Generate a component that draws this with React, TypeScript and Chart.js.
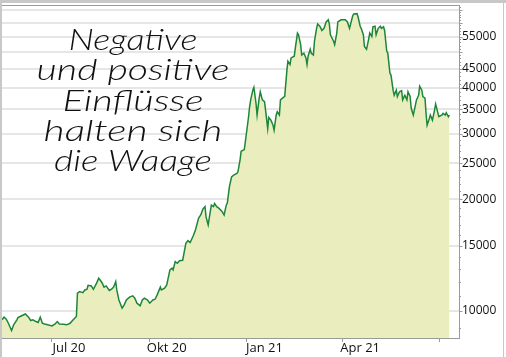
import React, { useEffect, useRef } from "react";
import { Chart, registerables } from "chart.js";

Chart.register(...registerables);

const dates = [
  "2020-05-16","2020-05-18","2020-05-20","2020-05-22","2020-05-25","2020-05-27","2020-05-30","2020-05-31",
  "2020-06-03","2020-06-05","2020-06-07","2020-06-10","2020-06-12","2020-06-14","2020-06-17","2020-06-19",
  "2020-06-21","2020-06-23","2020-06-25","2020-06-28","2020-07-02","2020-07-05","2020-07-07","2020-07-09",
  "2020-07-13","2020-07-16","2020-07-19","2020-07-22","2020-07-25","2020-07-26","2020-07-28","2020-07-31",
  "2020-08-02","2020-08-04","2020-08-05","2020-08-08","2020-08-10","2020-08-13","2020-08-15","2020-08-18",
  "2020-08-20","2020-08-22","2020-08-25","2020-08-27","2020-08-29","2020-08-31","2020-09-01","2020-09-03",
  "2020-09-06","2020-09-08","2020-09-10","2020-09-13","2020-09-16","2020-09-18","2020-09-20","2020-09-23",
  "2020-09-25","2020-09-27","2020-09-30","2020-10-02","2020-10-05","2020-10-07","2020-10-09","2020-10-12",
  "2020-10-13","2020-10-16","2020-10-18","2020-10-21","2020-10-23","2020-10-24","2020-10-26","2020-10-28",
  "2020-10-30","2020-11-02","2020-11-05","2020-11-07","2020-11-09","2020-11-12","2020-11-14","2020-11-17",
  "2020-11-19","2020-11-21","2020-11-23","2020-11-24","2020-11-26","2020-11-28","2020-11-29","2020-12-01",
  "2020-12-02","2020-12-04","2020-12-06","2020-12-09","2020-12-11","2020-12-13","2020-12-14","2020-12-16",
  "2020-12-18","2020-12-20","2020-12-23","2020-12-24","2020-12-26","2020-12-27","2020-12-30","2021-01-01",
  "2021-01-03","2021-01-04","2021-01-05","2021-01-07","2021-01-08","2021-01-10","2021-01-11","2021-01-13",
  "2021-01-14","2021-01-16","2021-01-18","2021-01-19","2021-01-21","2021-01-22","2021-01-24","2021-01-26",
  "2021-01-27","2021-01-29","2021-01-30","2021-02-01","2021-02-02","2021-02-05","2021-02-06","2021-02-08",
  "2021-02-09","2021-02-11","2021-02-12","2021-02-15","2021-02-16","2021-02-18","2021-02-19","2021-02-21",
  "2021-02-22","2021-02-24","2021-02-26","2021-02-27","2021-02-28","2021-03-02","2021-03-03","2021-03-05",
  "2021-03-06","2021-03-08","2021-03-09","2021-03-11","2021-03-13","2021-03-15","2021-03-17","2021-03-19",
  "2021-03-20","2021-03-21","2021-03-24","2021-03-25","2021-03-27","2021-03-28","2021-03-31","2021-04-04",
  "2021-04-06","2021-04-08","2021-04-09","2021-04-11","2021-04-12","2021-04-15","2021-04-16","2021-04-18",
  "2021-04-19","2021-04-21","2021-04-22","2021-04-24","2021-04-26","2021-04-27","2021-04-29","2021-04-30",
  "2021-05-02","2021-05-03","2021-05-05","2021-05-07","2021-05-08","2021-05-10","2021-05-11","2021-05-13",
  "2021-05-14","2021-05-16","2021-05-17","2021-05-19","2021-05-20","2021-05-22","2021-05-23","2021-05-25",
  "2021-05-27","2021-05-28","2021-05-30","2021-06-01","2021-06-02","2021-06-04","2021-06-05","2021-06-07",
  "2021-06-08","2021-06-10","2021-06-12","2021-06-13","2021-06-15","2021-06-16","2021-06-18","2021-06-19",
  "2021-06-20","2021-06-22","2021-06-23","2021-06-25","2021-06-27","2021-06-28","2021-06-29","2021-07-01",
  "2021-07-04","2021-07-05","2021-07-07","2021-07-08","2021-07-10","2021-07-11",
];

const prices = [
  9460, 9620, 9500, 9260, 8850, 9170, 9460, 9590,
  9690, 9750, 9810, 9620, 9420, 9460, 9360, 9300,
  9620, 9260, 9220, 9170, 9110, 9220, 9360, 9220,
  9200, 9170, 9260, 9460, 9660, 11160, 11270, 11200,
  11390, 11450, 11720, 11680, 11440, 11880, 12250, 11930,
  11590, 11680, 11350, 11440, 11590, 12000, 11390, 10700,
  10170, 10380, 10700, 10890, 10980, 10820, 10490, 10320,
  10700, 10820, 10700, 10490, 10700, 10750, 11050, 11590,
  11390, 11510, 11750, 12900, 13040, 12900, 13580, 13440,
  13660, 13700, 15220, 15470, 15290, 15950, 16540, 17800,
  18150, 18820, 19110, 17930, 17060, 18550, 19290, 19110,
  19500, 19110, 18930, 18550, 18150, 19290, 19550, 21650,
  23000, 23240, 23480, 23730, 25570, 26950, 27240, 30150,
  33410, 35600, 37100, 39420, 40110, 36340, 33770, 37500,
  39020, 37100, 36720, 34820, 31040, 33270, 32710, 31700,
  30730, 33770, 34470, 33770, 37100, 37720, 37880, 44350,
  47160, 46210, 48160, 48670, 51280, 56200, 55600, 52310,
  49040, 49560, 48160, 46210, 48670, 50800, 49560, 49040,
  53410, 57880, 59420, 58630, 57120, 57880, 60230, 61030,
  59420, 55600, 53410, 52310, 56200, 60230, 61030, 61030,
  60230, 57880, 59420, 62600, 63260, 63400, 62190, 58630,
  57880, 55600, 51710, 50800, 54140, 56200, 55020, 58420,
  58630, 55600, 57880, 58630, 57880, 58420, 57120, 50260,
  49560, 43840, 43290, 39420, 38180, 39420, 37880, 39020,
  39270, 37100, 38180, 37100, 39020, 37880, 35260, 33770,
  34820, 37100, 38180, 40390, 39420, 37880, 37500, 34110,
  31700, 32990, 33770, 32710, 34820, 36150, 35260, 33410,
  33770, 34110, 33770, 34260, 33410, 33770,
];

const xRangeStart = "2020-05-16";
const xRangeEnd = "2021-07-20";
const quarterStarts = ["2020-07-01", "2020-10-01", "2021-01-01", "2021-04-01", "2021-07-01"];
const xLabels = ["Jul 20", "Okt 20", "Jan 21", "Apr 21"];

const yMin = 8450;
const yMax = 66900;
const yGridTicks = [10000, 15000, 20000, 25000, 30000, 35000, 40000, 45000, 50000, 55000, 60000, 65000];
const yLabelled = [10000, 15000, 20000, 25000, 30000, 35000, 40000, 45000, 55000];
const yMinorStep = 1000;

const titleLines = ["Negative", "und positive", "Einflüsse", "halten sich", "die Waage"];

const DAY = 86400000;
const toDay = (s: string) => {
  const [y, m, d] = s.split("-").map(Number);
  return (Date.UTC(y, m - 1, d) - Date.UTC(2020, 6, 1)) / DAY;
};

const LABEL_OFFSET_DAYS = 17;

export default function App() {
  const ref = useRef<HTMLCanvasElement | null>(null);

  useEffect(() => {
    document.body.style.margin = "0";
    const canvas = ref.current;
    if (!canvas) return;

    const points = dates.map((d, i) => ({ x: toDay(d), y: prices[i] }));
    const quarterDays = quarterStarts.map(toDay);
    const labelDays = quarterDays.slice(0, xLabels.length).map((d) => d + LABEL_OFFSET_DAYS);

    const framePlugin = {
      id: "frame",
      beforeDraw(chart: any) {
        const { ctx, width, height } = chart;
        ctx.save();
        ctx.fillStyle = "#ffffff";
        ctx.fillRect(0, 0, width, height);
        ctx.fillStyle = "#c8c8c8";
        ctx.fillRect(0, 0, 2, height);
        ctx.fillRect(0, 0, width, 3);
        ctx.fillRect(width - 3, 0, 1, height);
        ctx.restore();
      },
      afterDraw(chart: any) {
        const { ctx, chartArea } = chart;
        const xs = chart.scales.x;
        const ys = chart.scales.y;
        ctx.save();
        ctx.strokeStyle = "#9a9a9a";
        ctx.lineWidth = 1;
        ctx.beginPath();
        ctx.moveTo(2, chartArea.top + 0.5);
        ctx.lineTo(chartArea.right, chartArea.top + 0.5);
        ctx.stroke();
        const ax = Math.round(chartArea.right) + 0.5;
        for (let v = 9000; v <= yMax; v += yMinorStep) {
          const y = Math.round(ys.getPixelForValue(v)) + 0.5;
          const len = v % 5000 === 0 ? 3 : 1.5;
          ctx.beginPath();
          ctx.moveTo(ax, y);
          ctx.lineTo(ax + len, y);
          ctx.stroke();
        }
        const by = Math.round(chartArea.bottom);
        quarterDays.forEach((d) => {
          const x = Math.round(xs.getPixelForValue(d)) + 0.5;
          ctx.beginPath();
          ctx.moveTo(x, by);
          ctx.lineTo(x, by + 4);
          ctx.stroke();
        });
        ctx.restore();
      },
    };

    const titlePlugin = {
      id: "titleText",
      afterDatasetsDraw(chart: any) {
        const { ctx } = chart;
        const widths = [129, 193, 141, 179, 158];
        ctx.save();
        ctx.fillStyle = "#111111";
        ctx.font = "italic 300 30px Lato, 'DejaVu Sans', sans-serif";
        ctx.textAlign = "center";
        ctx.textBaseline = "alphabetic";
        titleLines.forEach((line, i) => {
          const w = ctx.measureText(line).width;
          ctx.save();
          ctx.translate(133, 50 + i * 30.3);
          ctx.scale(widths[i] / w, 1);
          ctx.fillText(line, 0, 0);
          ctx.restore();
        });
        ctx.restore();
      },
    };

    const zeroPad = (scale: any) => {
      scale.paddingTop = 0;
      scale.paddingBottom = 0;
      scale.paddingLeft = 0;
      scale.paddingRight = 0;
    };

    const chart = new Chart(canvas, {
      type: "line",
      data: {
        datasets: [
          {
            data: points,
            borderColor: "#1d8639",
            borderWidth: 1.5,
            backgroundColor: "#eaeebf",
            fill: "start",
            pointRadius: 0,
            tension: 0,
          },
        ],
      },
      options: {
        responsive: false,
        animation: false,
        layout: { padding: { left: 2, top: 5, right: 0, bottom: 0 } },
        plugins: { legend: { display: false }, tooltip: { enabled: false }, title: { display: false } },
        scales: {
          x: {
            type: "linear",
            min: toDay(xRangeStart),
            max: toDay(xRangeEnd),
            afterBuildTicks(scale: any) {
              scale.ticks = labelDays.map((v) => ({ value: v }));
            },
            afterFit(scale: any) {
              scale.height = 19;
              zeroPad(scale);
            },
            grid: { display: false, drawTicks: false },
            border: { display: true, color: "#9a9a9a", width: 1 },
            ticks: {
              autoSkip: false,
              maxRotation: 0,
              padding: 2,
              color: "#111111",
              font: { family: "'Open Sans', sans-serif", size: 13 },
              callback: (_v: any, i: number) => xLabels[i],
            },
          },
          y: {
            type: "logarithmic",
            position: "right",
            min: yMin,
            max: yMax,
            afterBuildTicks(scale: any) {
              scale.ticks = yGridTicks.map((v) => ({ value: v }));
            },
            afterFit(scale: any) {
              scale.width = 47;
              zeroPad(scale);
            },
            grid: { display: true, color: "#e6e6e6", lineWidth: 2, drawTicks: false },
            border: { display: true, color: "#9a9a9a", width: 1 },
            ticks: {
              autoSkip: false,
              padding: 3,
              color: "#111111",
              font: { family: "'Open Sans', sans-serif", size: 12 },
              callback: (v: any) => (yLabelled.includes(Number(v)) ? String(v) : ""),
            },
          },
        },
      },
      plugins: [framePlugin, titlePlugin],
    });

    return () => chart.destroy();
  }, []);

  return (
    <div style={{ width: 506, height: 357 }}>
      <canvas ref={ref} width={506} height={357} style={{ display: "block" }} />
    </div>
  );
}
